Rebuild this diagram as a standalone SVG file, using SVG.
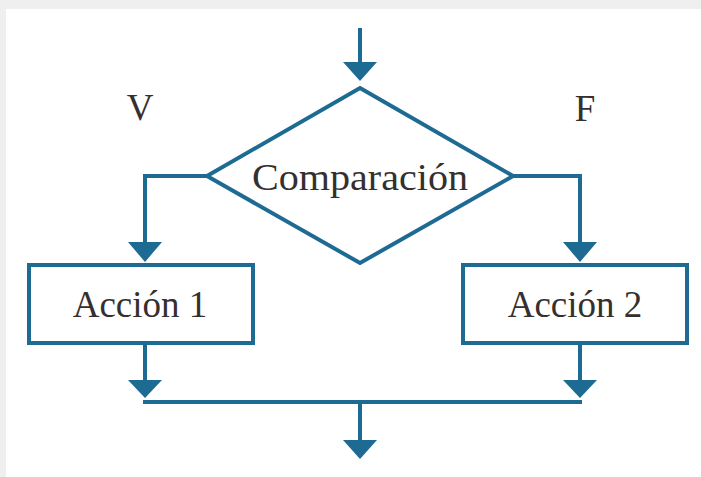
<svg xmlns="http://www.w3.org/2000/svg" width="701" height="477" viewBox="0 0 701 477">
<defs>
<style>
.ln{fill:none;stroke:#1d6a93;stroke-width:4;stroke-linejoin:miter}
.bx{fill:#ffffff;stroke:#1d6a93;stroke-width:4}
.tx{font-family:"Liberation Serif","Times New Roman",serif;font-size:37px;fill:#35302e;text-anchor:middle}
</style>
<marker id="ah" markerUnits="userSpaceOnUse" markerWidth="34" markerHeight="20" viewBox="0 0 34 20" refX="17" refY="20" orient="auto-start-reverse">
<path d="M0,0 L34,0 L17,20 Z" fill="#1d6a93"/>
</marker>
</defs>
<rect x="0" y="0" width="701" height="477" fill="#efefef"/>
<rect x="6" y="9" width="695" height="468" fill="#ffffff"/>
<g id="connectors">
<path class="ln" d="M360,28 V62"/>
<path d="M343,62 L377,62 L360,81 Z" fill="#1d6a93"/>
<path class="ln" d="M207,176 H145 V243"/>
<path d="M128,242 L162,242 L145,262 Z" fill="#1d6a93"/>
<path class="ln" d="M513,176 H580 V243"/>
<path d="M563,242 L597,242 L580,262 Z" fill="#1d6a93"/>
<path class="ln" d="M145,343 V381"/>
<path d="M128,380 L162,380 L145,398 Z" fill="#1d6a93"/>
<path class="ln" d="M580,343 V381"/>
<path d="M563,380 L597,380 L580,398 Z" fill="#1d6a93"/>
<path class="ln" d="M143,402 H582"/>
<path class="ln" d="M360,402 V441"/>
<path d="M343,440 L377,440 L360,459 Z" fill="#1d6a93"/>
</g>
<g id="decision">
<polygon class="bx" points="360,88 513,176 360,263 207,176"/>
<text class="tx" x="360" y="190" textLength="216" lengthAdjust="spacingAndGlyphs">Comparación</text>
</g>
<g id="labelV"><text class="tx" x="140" y="120">V</text></g>
<g id="labelF"><text class="tx" x="585" y="121">F</text></g>
<g id="accion1">
<rect class="bx" x="29" y="265" width="224" height="78"/>
<text class="tx" x="140" y="317">Acción 1</text>
</g>
<g id="accion2">
<rect class="bx" x="463" y="265" width="224" height="78"/>
<text class="tx" x="575" y="317">Acción 2</text>
</g>
</svg>
